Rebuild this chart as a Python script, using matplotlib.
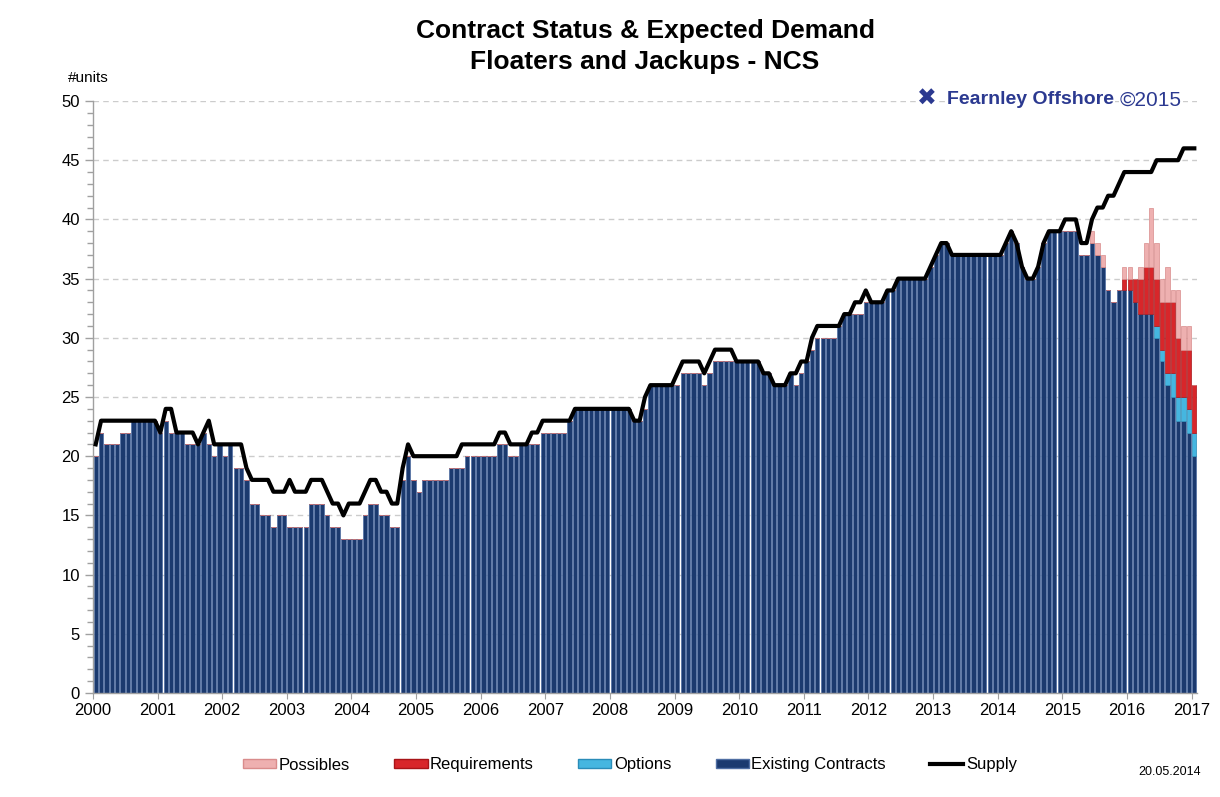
import matplotlib
matplotlib.use('Agg')
import matplotlib.pyplot as plt
from matplotlib.patches import Patch
from matplotlib.lines import Line2D
from matplotlib.ticker import MultipleLocator
import numpy as np

plt.rcParams['font.family'] = ['Liberation Sans', 'DejaVu Sans']

# Monthly data, Jan 2000 .. Jan 2017
existing = [
    20, 22, 21, 21, 21, 22, 22, 23, 23, 23, 23, 23,   # 2000
    22, 23, 22, 22, 22, 21, 21, 21, 22, 21, 20, 21,   # 2001
    20, 21, 19, 19, 18, 16, 16, 15, 15, 14, 15, 15,   # 2002
    14, 14, 14, 14, 16, 16, 16, 15, 14, 14, 13, 13,   # 2003
    13, 13, 15, 16, 16, 15, 15, 14, 14, 18, 20, 18,   # 2004
    17, 18, 18, 18, 18, 18, 19, 19, 19, 20, 20, 20,   # 2005
    20, 20, 20, 21, 21, 20, 20, 21, 21, 21, 21, 22,   # 2006
    22, 22, 22, 22, 23, 24, 24, 24, 24, 24, 24, 24,   # 2007
    24, 24, 24, 24, 23, 23, 24, 26, 26, 26, 26, 26,   # 2008
    26, 27, 27, 27, 27, 26, 27, 28, 28, 28, 28, 28,   # 2009
    28, 28, 28, 28, 27, 27, 26, 26, 26, 27, 26, 27,   # 2010
    28, 29, 30, 30, 30, 30, 31, 32, 32, 32, 32, 33,   # 2011
    33, 33, 33, 34, 34, 35, 35, 35, 35, 35, 35, 36,   # 2012
    37, 38, 38, 37, 37, 37, 37, 37, 37, 37, 37, 37,   # 2013
    37, 38, 39, 38, 36, 35, 35, 36, 38, 39, 39, 39,   # 2014
    39, 39, 39, 37, 37, 38, 37, 36, 34, 33, 34, 34,   # 2015
    34, 33, 32, 32, 32, 30, 28, 26, 25, 23, 23, 22,   # 2016
    20,                                               # 2017
]

supply = [
    21, 23, 23, 23, 23, 23, 23, 23, 23, 23, 23, 23,
    22, 24, 24, 22, 22, 22, 22, 21, 22, 23, 21, 21,
    21, 21, 21, 21, 19, 18, 18, 18, 18, 17, 17, 17,
    18, 17, 17, 17, 18, 18, 18, 17, 16, 16, 15, 16,
    16, 16, 17, 18, 18, 17, 17, 16, 16, 19, 21, 20,
    20, 20, 20, 20, 20, 20, 20, 20, 21, 21, 21, 21,
    21, 21, 21, 22, 22, 21, 21, 21, 21, 22, 22, 23,
    23, 23, 23, 23, 23, 24, 24, 24, 24, 24, 24, 24,
    24, 24, 24, 24, 23, 23, 25, 26, 26, 26, 26, 26,
    27, 28, 28, 28, 28, 27, 28, 29, 29, 29, 29, 28,
    28, 28, 28, 28, 27, 27, 26, 26, 26, 27, 27, 28,
    28, 30, 31, 31, 31, 31, 31, 32, 32, 33, 33, 34,
    33, 33, 33, 34, 34, 35, 35, 35, 35, 35, 35, 36,
    37, 38, 38, 37, 37, 37, 37, 37, 37, 37, 37, 37,
    37, 38, 39, 38, 36, 35, 35, 36, 38, 39, 39, 39,
    40, 40, 40, 38, 38, 40, 41, 41, 42, 42, 43, 44,
    44, 44, 44, 44, 44, 45, 45, 45, 45, 45, 46, 46,
    46,
]

# Forward-looking components, months Jun 2015 .. Jan 2017 (index 185..204)
tail_start = 185
options_tail      = [0, 0, 0, 0, 0, 0, 0, 0, 0, 0, 0, 0, 1, 1, 1, 2, 2, 2, 2, 2]
requirements_tail = [0, 0, 0, 0, 0, 0, 1, 1, 2, 3, 4, 4, 4, 4, 6, 6, 5, 4, 5, 4]
possibles_tail    = [1, 1, 1, 0, 0, 0, 1, 1, 0, 1, 2, 5, 3, 2, 3, 1, 4, 2, 2, 0]

year_labels = [str(y) for y in range(2000, 2018)]

n = len(existing)
pad = [0] * tail_start
options = np.array(pad + options_tail)
requirements = np.array(pad + requirements_tail)
possibles = np.array(pad + possibles_tail)
existing_a = np.array(existing)

fig = plt.figure(figsize=(12.2, 7.97), dpi=100)
ax = fig.add_axes([93 / 1220, 1 - 693 / 797, (1197 - 93) / 1220, (693 - 101) / 797])

x = np.arange(n)
w = 0.8
c_exist, e_exist = '#1b3a6f', '#4f6ea3'
c_opt, e_opt = '#45b6e0', '#2a8cb8'
c_req, e_req = '#d8262a', '#a81418'
c_pos, e_pos = '#eeb0b0', '#d98c8c'

ax.bar(x, existing_a, width=w, color=c_exist, edgecolor=e_exist, linewidth=0.5, zorder=2)
b1 = existing_a
ax.bar(x, options, width=w, bottom=b1, color=c_opt, edgecolor=e_opt, linewidth=0.5, zorder=2)
b2 = b1 + options
ax.bar(x, requirements, width=w, bottom=b2, color=c_req, edgecolor=e_req, linewidth=0.5, zorder=2)
b3 = b2 + requirements
ax.bar(x, possibles, width=w, bottom=b3, color=c_pos, edgecolor=e_pos, linewidth=0.5, zorder=2)

ax.plot(x, supply, color='black', lw=3.0, zorder=4, solid_joinstyle='round')

ax.set_xlim(-0.5, n - 0.5)
ax.set_ylim(0, 50)
ax.yaxis.set_major_locator(MultipleLocator(5))
ax.yaxis.set_minor_locator(MultipleLocator(1))
ax.set_xticks([12 * i - 0.5 for i in range(len(year_labels))])
ax.set_xticklabels(year_labels)
ax.tick_params(axis='both', labelsize=12, colors='#a0a0a0', labelcolor='black')
ax.tick_params(axis='y', which='major', length=6, width=1)
ax.tick_params(axis='y', which='minor', length=4, width=1, colors='#a0a0a0')
ax.tick_params(axis='x', which='major', length=4, pad=3)
ax.grid(axis='y', which='major', linestyle=(0, (4, 3)), color='#cccccc', lw=1, zorder=0)
ax.set_axisbelow(True)
for s in ['top', 'right']:
    ax.spines[s].set_visible(False)
for s in ['left', 'bottom']:
    ax.spines[s].set_color('#a0a0a0')
    ax.spines[s].set_linewidth(1)

fig.text(645 / 1220, 1 - 31 / 797, 'Contract Status & Expected Demand', ha='center', va='center',
         fontsize=19, fontweight='bold')
fig.text(645 / 1220, 1 - 62 / 797, 'Floaters and Jackups - NCS', ha='center', va='center',
         fontsize=19, fontweight='bold')
fig.text(88 / 1220, 1 - 78 / 797, '#units', ha='center', va='center', fontsize=11)

# logo
navy = '#2b3990'
fig.text(927 / 1220, 1 - 99 / 797, '✖', ha='center', va='center', fontsize=17, color=navy,
         family=['DejaVu Sans'],
         bbox=dict(facecolor='white', edgecolor='none', pad=1))
fig.text(1114 / 1220, 1 - 100 / 797, 'Fearnley Offshore', ha='right', va='center', fontsize=14,
         fontweight='bold', color=navy, family=['Liberation Sans Narrow', 'Liberation Sans', 'DejaVu Sans'],
         bbox=dict(facecolor='white', edgecolor='none', pad=1))
fig.text(1120 / 1220, 1 - 100 / 797, '©2015', ha='left', va='center', fontsize=15, color=navy,
         bbox=dict(facecolor='white', edgecolor='none', pad=1))

handles = [
    Patch(facecolor=c_pos, edgecolor=e_pos, label='Possibles'),
    Patch(facecolor=c_req, edgecolor=e_req, label='Requirements'),
    Patch(facecolor=c_opt, edgecolor=e_opt, label='Options'),
    Patch(facecolor=c_exist, edgecolor=e_exist, label='Existing Contracts'),
    Line2D([0], [0], color='black', lw=3, label='Supply'),
]
fig.legend(handles=handles, loc='center', bbox_to_anchor=(630 / 1220, 1 - 765 / 797), ncol=5,
           frameon=False, fontsize=12, handlelength=2.0, handleheight=0.5, handletextpad=0.15,
           columnspacing=2.65)

fig.text(1170 / 1220, 1 - 772 / 797, '20.05.2014', ha='center', va='center', fontsize=9)

fig.savefig('out.png', dpi=100)
